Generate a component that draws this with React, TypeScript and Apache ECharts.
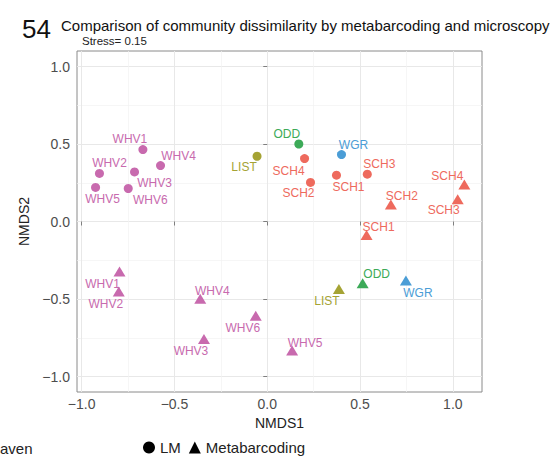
import React, { useEffect, useRef } from "react";
import * as echarts from "echarts";

// ---- data ----
const lmLabels = ["WHV1", "WHV2", "WHV3", "WHV4", "WHV5", "WHV6", "LIST", "ODD", "WGR", "SCH1", "SCH2", "SCH3", "SCH4"];
const lmX = [-0.67, -0.904, -0.715, -0.575, -0.925, -0.749, -0.055, 0.17, 0.4, 0.373, 0.233, 0.539, 0.201];
const lmY = [0.464, 0.31, 0.32, 0.361, 0.22, 0.213, 0.421, 0.5, 0.432, 0.299, 0.252, 0.305, 0.406];

const mbLabels = ["WHV1", "WHV2", "WHV3", "WHV4", "WHV5", "WHV6", "LIST", "ODD", "WGR", "SCH1", "SCH2", "SCH3", "SCH4"];
const mbX = [-0.796, -0.8, -0.341, -0.361, 0.134, -0.062, 0.386, 0.514, 0.747, 0.535, 0.666, 1.026, 1.062];
const mbY = [-0.323, -0.451, -0.758, -0.498, -0.833, -0.608, -0.436, -0.398, -0.381, -0.087, 0.11, 0.143, 0.239];

const majorTicks = [-1, -0.5, 0, 0.5, 1];
const minorTicks = [-0.75, -0.25, 0.25, 0.75];

const titleNumber = "54";
const titleText = "Comparison of community dissimilarity by metabarcoding and microscopy";
const subtitleText = "Stress= 0.15";
const xName = "NMDS1";
const yName = "NMDS2";
const methodNames = ["LM", "Metabarcoding"];
const siteLegendFragment = "aven";

// ---- styles ----
const groupColors: Record<string, string> = {
  WHV: "#C86AAE",
  SCH: "#EE6A5D",
  LIST: "#A5A334",
  ODD: "#3CAA58",
  WGR: "#4B9DD6",
};
const lmOffsets = [
  [-13, -11], [10, -10], [20, 11], [18, -10], [7, 12], [22, 12],
  [-13, 11], [-12, -10], [12, -10], [12, 12], [-12, 11], [12, -10], [-16, 12],
];
const mbOffsets = [
  [-17, 12], [-13, 13], [-13, 12], [12, -8], [13, -8], [-13, 12],
  [-12, 12], [14, -9], [12, 12], [12, -8], [11, -8], [-14, 11], [-17, -8],
];

const FONT = "'Liberation Sans', Arial, Helvetica, sans-serif";

const groupOf = (name: string) => name.replace(/[0-9]+$/, "");

function buildData(labels: string[], xs: number[], ys: number[], offsets: number[][]) {
  return labels.map((name, i) => {
    const c = groupColors[groupOf(name)];
    return {
      name,
      value: [xs[i], ys[i]],
      itemStyle: { color: c },
      label: { offset: offsets[i], color: c },
    };
  });
}

const fmt = (v: number) => v.toFixed(1).replace("-", "\u2212");

export default function App() {
  const ref = useRef<HTMLDivElement>(null);
  useEffect(() => {
    if (!ref.current) return;
    const chart = echarts.init(ref.current, null, { renderer: "svg" });
    const labelBase = {
      show: true,
      position: "inside",
      formatter: "{b}",
      fontFamily: FONT,
      fontSize: 12,
      align: "center",
      verticalAlign: "middle",
    };
    const xMin = -1.025, xMax = 1.157, yMin = -1.1, yMax = 1.1;
    chart.setOption({
      animation: false,
      backgroundColor: "#ffffff",
      title: [
        { text: titleNumber, left: 17, top: 11, textStyle: { fontFamily: FONT, fontSize: 26, fontWeight: "normal", color: "#111" } },
        { text: titleText, left: 56, top: 13, textStyle: { fontFamily: FONT, fontSize: 15, fontWeight: "normal", color: "#111" } },
        { text: subtitleText, left: 77, top: 30, textStyle: { fontFamily: FONT, fontSize: 11.5, fontWeight: "normal", color: "#222" } },
      ],
      grid: {
        left: 77, top: 51, width: 405, height: 341,
        show: true, borderColor: "#8a8a8a", borderWidth: 1, backgroundColor: "transparent",
      },
      legend: {
        data: [
          { name: methodNames[0], icon: "circle" },
          { name: methodNames[1], icon: "triangle" },
        ],
        left: 143, top: 440, padding: 0, itemWidth: 12, itemHeight: 12, itemGap: 8,
        textStyle: { fontFamily: FONT, fontSize: 15, color: "#222" },
      },
      graphic: [
        { type: "text", left: 0, top: 441, style: { text: siteLegendFragment, fontFamily: FONT, fontSize: 15, fill: "#222" } },
      ],
      xAxis: [
        {
          type: "value", min: xMin, max: xMax,
          name: xName, nameLocation: "middle", nameGap: 17,
          nameTextStyle: { fontFamily: FONT, fontSize: 14, color: "#222" },
          axisLine: { show: false },
          axisTick: { show: true, customValues: majorTicks, length: 4, lineStyle: { color: "#7f7f7f" } },
          axisLabel: { customValues: majorTicks, formatter: fmt, fontFamily: FONT, fontSize: 14, color: "#4d4d4d", margin: 5 },
          splitLine: { show: true, lineStyle: { color: "#e8e8e8", width: 1 } },
        },
        {
          type: "value", min: xMin, max: xMax, position: "bottom",
          axisLine: { show: false },
          axisTick: { show: false, customValues: minorTicks },
          axisLabel: { show: false },
          splitLine: { show: true, lineStyle: { color: "#f2f2f2", width: 0.7 } },
        },
      ],
      yAxis: [
        {
          type: "value", min: yMin, max: yMax,
          name: yName, nameLocation: "middle", nameGap: 35,
          nameTextStyle: { fontFamily: FONT, fontSize: 14, color: "#222" },
          axisLine: { show: false },
          axisTick: { show: true, customValues: majorTicks, length: 4, lineStyle: { color: "#7f7f7f" } },
          axisLabel: { customValues: majorTicks, formatter: fmt, fontFamily: FONT, fontSize: 14, color: "#4d4d4d", margin: 7 },
          splitLine: { show: true, lineStyle: { color: "#e8e8e8", width: 1 } },
        },
        {
          type: "value", min: yMin, max: yMax, position: "left",
          axisLine: { show: false },
          axisTick: { show: false, customValues: minorTicks },
          axisLabel: { show: false },
          splitLine: { show: true, lineStyle: { color: "#f2f2f2", width: 0.7 } },
        },
      ],
      series: [
        {
          name: methodNames[0], type: "scatter", xAxisIndex: 0, yAxisIndex: 0,
          symbol: "circle", symbolSize: 9, itemStyle: { color: "#000", opacity: 1 },
          label: labelBase,
          data: buildData(lmLabels, lmX, lmY, lmOffsets),
        },
        {
          name: methodNames[1], type: "scatter", xAxisIndex: 0, yAxisIndex: 0,
          symbol: "triangle", symbolSize: [12, 10], itemStyle: { color: "#000", opacity: 1 },
          label: labelBase,
          data: buildData(mbLabels, mbX, mbY, mbOffsets),
        },
      ],
    });
    return () => chart.dispose();
  }, []);
  return <div ref={ref} style={{ width: 555, height: 460, position: "absolute", left: 0, top: 0 }} />;
}
